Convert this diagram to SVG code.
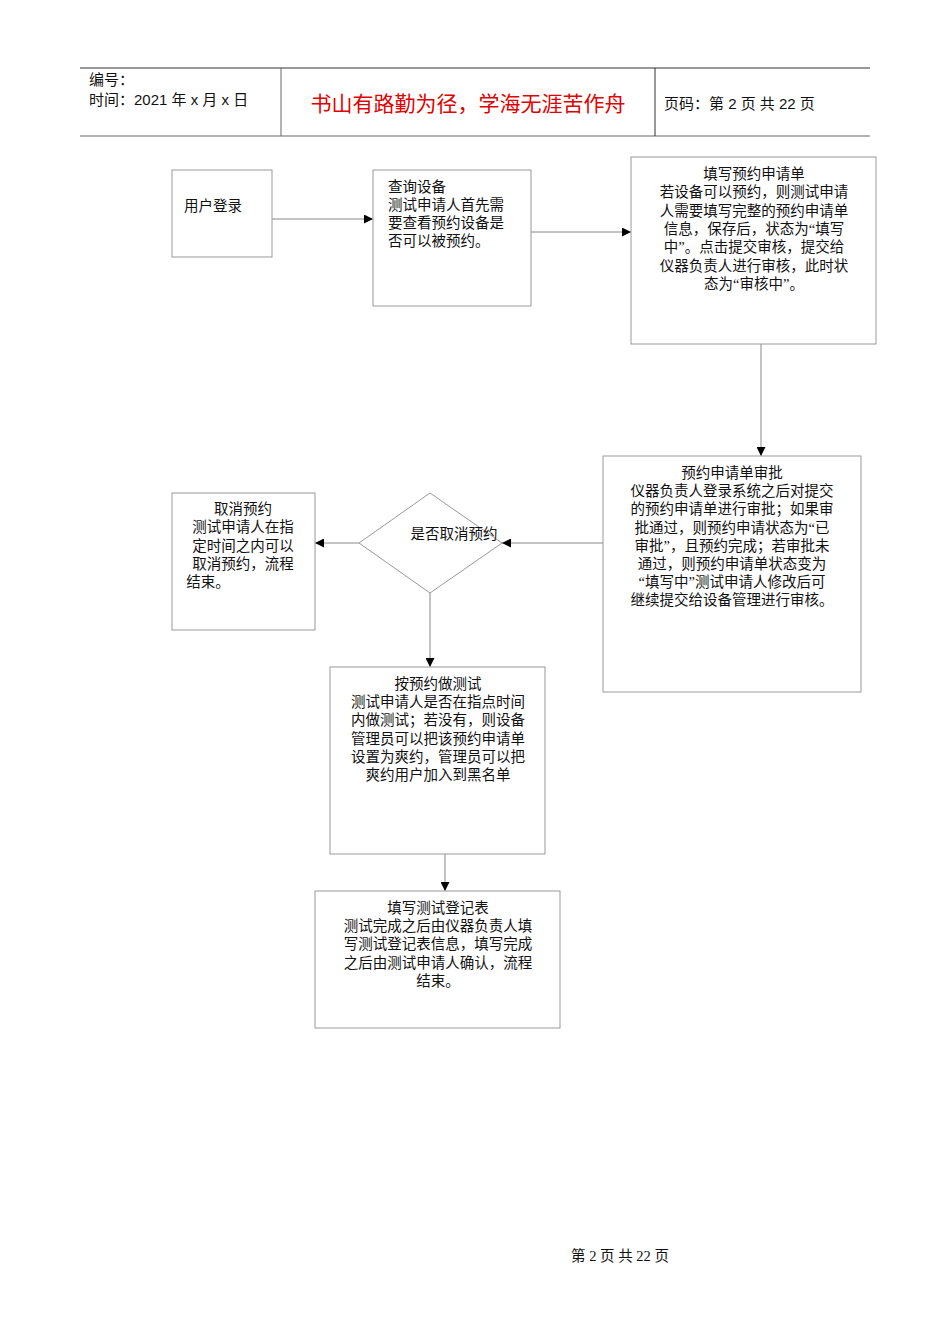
<svg xmlns="http://www.w3.org/2000/svg" width="950" height="1344" viewBox="0 0 950 1344">
<style>
.b{fill:#fff;stroke:#999;stroke-width:1}
.c{stroke:#888;stroke-width:1;fill:none}
.t{font-family:"Liberation Serif","Noto Sans CJK SC",serif;font-size:14.5px;fill:#111}
.m{text-anchor:middle}
.h{font-family:"Liberation Sans","Noto Sans CJK SC",sans-serif;font-size:15px;fill:#111}
</style>
<defs><marker id="a" viewBox="0 0 10 10" refX="10" refY="5" markerWidth="9" markerHeight="9" markerUnits="userSpaceOnUse" orient="auto"><path d="M0,0L10,5L0,10z" fill="#000"/></marker></defs>
<rect width="950" height="1344" fill="#fff"/>
<g id="header">
<line x1="80" y1="68" x2="870" y2="68" stroke="#333" stroke-width="1.2"/>
<line x1="80" y1="136" x2="870" y2="136" stroke="#666" stroke-width="1.2"/>
<line x1="281" y1="68" x2="281" y2="136" stroke="#666"/>
<line x1="655" y1="68" x2="655" y2="136" stroke="#333"/>
<text class="h" x="89" y="85">编号：</text>
<text class="h" x="89" y="105">时间：2021 年 x 月 x 日</text>
<text x="468" y="111" font-family="'Noto Sans CJK SC',sans-serif" font-size="21" fill="#e00000" text-anchor="middle">书山有路勤为径，学海无涯苦作舟</text>
<text class="h" x="664" y="109">页码：第 2 页  共 22 页</text>
</g>
<g id="connectors" class="c">
<line x1="272" y1="219" x2="373" y2="219" marker-end="url(#a)"/>
<line x1="531" y1="232" x2="631" y2="232" marker-end="url(#a)"/>
<line x1="761" y1="344" x2="761" y2="456" marker-end="url(#a)"/>
<line x1="603" y1="543" x2="502" y2="543" marker-end="url(#a)"/>
<line x1="359" y1="543" x2="315" y2="543" marker-end="url(#a)"/>
<line x1="430" y1="593" x2="430" y2="667" marker-end="url(#a)"/>
<line x1="445" y1="854" x2="445" y2="891" marker-end="url(#a)"/>
</g>
<g id="n1"><rect class="b" x="172" y="170" width="100" height="87"/><text class="t" x="184" y="211">用户登录</text></g>
<g id="n2"><rect class="b" x="373" y="170" width="158" height="136"/>
<text class="t" x="388" y="192">查询设备<tspan x="388" dy="18">测试申请人首先需</tspan><tspan x="388" dy="18">要查看预约设备是</tspan><tspan x="388" dy="18">否可以被预约。</tspan></text></g>
<g id="n3"><rect class="b" x="631" y="157" width="245" height="187"/>
<text class="t m" x="754" y="179">填写预约申请单<tspan x="754" dy="18.3">若设备可以预约，则测试申请</tspan><tspan x="754" dy="18.3">人需要填写完整的预约申请单</tspan><tspan x="754" dy="18.3">信息，保存后，状态为“填写</tspan><tspan x="754" dy="18.3">中”。点击提交审核，提交给</tspan><tspan x="754" dy="18.3">仪器负责人进行审核，此时状</tspan><tspan x="754" dy="18.3">态为“审核中”。</tspan></text></g>
<g id="n4"><rect class="b" x="603" y="456" width="258" height="236"/>
<text class="t m" x="732" y="478">预约申请单审批<tspan x="732" dy="18.2">仪器负责人登录系统之后对提交</tspan><tspan x="732" dy="18.2">的预约申请单进行审批；如果审</tspan><tspan x="732" dy="18.2">批通过，则预约申请状态为“已</tspan><tspan x="732" dy="18.2">审批”，且预约完成；若审批未</tspan><tspan x="732" dy="18.2">通过，则预约申请单状态变为</tspan><tspan x="732" dy="18.2">“填写中”测试申请人修改后可</tspan><tspan x="732" dy="18.2">继续提交给设备管理进行审核。</tspan></text></g>
<g id="d1"><polygon class="b" points="430,493 502,543 430,593 359,543"/><text class="t m" x="454" y="539">是否取消预约</text></g>
<g id="n5"><rect class="b" x="172" y="493" width="143" height="137"/>
<text class="t m" x="243" y="514">取消预约<tspan x="243" dy="18.3">测试申请人在指</tspan><tspan x="243" dy="18.3">定时间之内可以</tspan><tspan x="243" dy="18.3">取消预约，流程</tspan><tspan x="208" dy="18.3">结束。</tspan></text></g>
<g id="n6"><rect class="b" x="330" y="667" width="215" height="187"/>
<text class="t m" x="438" y="689">按预约做测试<tspan x="438" dy="18.2">测试申请人是否在指点时间</tspan><tspan x="438" dy="18.2">内做测试；若没有，则设备</tspan><tspan x="438" dy="18.2">管理员可以把该预约申请单</tspan><tspan x="438" dy="18.2">设置为爽约，管理员可以把</tspan><tspan x="438" dy="18.2">爽约用户加入到黑名单</tspan></text></g>
<g id="n7"><rect class="b" x="315" y="891" width="245" height="137"/>
<text class="t m" x="438" y="913">填写测试登记表<tspan x="438" dy="18.2">测试完成之后由仪器负责人填</tspan><tspan x="438" dy="18.2">写测试登记表信息，填写完成</tspan><tspan x="438" dy="18.2">之后由测试申请人确认，流程</tspan><tspan x="438" dy="18.2">结束。</tspan></text></g>
<g id="footer"><text class="t m" x="620" y="1261" font-size="13.5">第  2  页  共  22  页</text></g>
</svg>
